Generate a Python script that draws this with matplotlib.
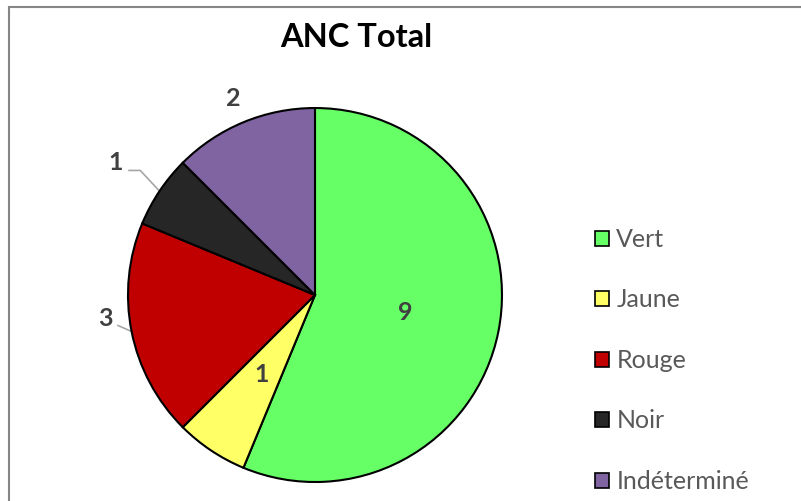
import numpy as np
import matplotlib

matplotlib.use('Agg')
import matplotlib.pyplot as plt
from matplotlib.patches import Rectangle, Patch

plt.rcParams['font.family'] = ['Lato', 'DejaVu Sans']

categories = ['Vert', 'Jaune', 'Rouge', 'Noir', 'Indéterminé']
values = [9, 1, 3, 1, 2]
colors = ['#66FF66', '#FFFF66', '#C00000', '#262626', '#8064A2']
title = 'ANC Total'

# label placement per wedge: (radius, angle offset in degrees, leader line?)
label_pos = [(0.49, 0, False), (0.51, 0, False), (1.13, -5, True), (1.28, 0, True), (1.14, 0, False)]

fig = plt.figure(figsize=(8.01, 5.01), dpi=100, facecolor='w')
ax = fig.add_axes([0.1598, 0.0379, 0.4669, 0.7465])

wedges, _ = ax.pie(values, colors=colors, startangle=90, counterclock=False,
                   radius=1.0, wedgeprops=dict(edgecolor='black', linewidth=1.5))
ax.set_xlim(-1, 1)
ax.set_ylim(-1, 1)
ax.set_aspect('equal')
ax.axis('off')

for w, v, (r, off, leader) in zip(wedges, values, label_pos):
    mid = np.deg2rad((w.theta1 + w.theta2) / 2)
    ang = mid + np.deg2rad(off)
    x, y = r * np.cos(ang), r * np.sin(ang)
    ax.text(x, y, str(v), ha='center', va='center', fontsize=18, fontweight='bold',
            color='#404040', clip_on=False)
    if leader:
        ex, ey = np.cos(mid), np.sin(mid)
        if r > 1.2:
            xs = [x + 0.07, x + 0.13, ex]
            ys = [y - 0.045, y - 0.045, ey]
        else:
            xs = [x + 0.07, ex]
            ys = [y - 0.04, ey]
        ax.plot(xs, ys, color='#A6A6A6', lw=1.2, clip_on=False, zorder=0)

fig.text(0.445, 0.926, title, ha='center', va='center', fontsize=23.5, fontweight='bold', color='black')

handles = [Patch(facecolor=c, edgecolor='black', linewidth=1.2) for c in colors]
leg = fig.legend(handles, categories, loc='upper left', bbox_to_anchor=(0.743, 0.545),
                 frameon=False, fontsize=18, handlelength=0.55, handleheight=0.55,
                 handletextpad=0.3, labelspacing=1.5, borderaxespad=0, borderpad=0)
for t in leg.get_texts():
    t.set_color('#595959')

fig.patches.append(Rectangle((9 / 801, -0.1), 1.2, 1 - 7 / 501 + 0.1, transform=fig.transFigure,
                             fill=False, edgecolor='#858585', linewidth=1.5))

fig.savefig('out.png', dpi=100, facecolor='w')
